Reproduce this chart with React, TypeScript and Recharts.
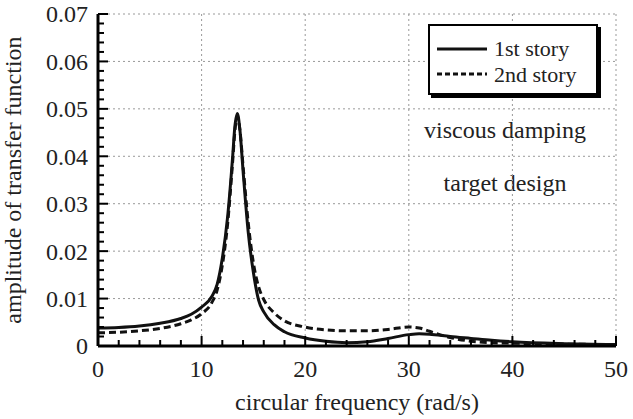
import { ComposedChart, Line, XAxis, YAxis, ReferenceLine, Legend } from "recharts"

const freq = [0, 2, 4, 6, 8, 9, 10, 11, 11.5, 12, 12.5, 13, 13.2, 13.45, 13.7, 14, 14.5, 15, 15.5, 16, 17, 18, 20, 22, 24, 26, 28, 30, 31, 32, 34, 36, 38, 40, 45, 50]
const story1 = [0.0038, 0.0039, 0.0042, 0.0048, 0.0058, 0.0067, 0.0082, 0.0105, 0.013, 0.0185, 0.027, 0.04, 0.046, 0.049, 0.0455, 0.037, 0.024, 0.0155, 0.0097, 0.0072, 0.0045, 0.003, 0.0017, 0.001, 0.0007, 0.0009, 0.0016, 0.0024, 0.0026, 0.0025, 0.002, 0.0016, 0.0012, 0.0009, 0.0005, 0.0003]
const story2 = [0.0028, 0.0029, 0.0032, 0.0037, 0.0047, 0.0055, 0.0068, 0.0092, 0.0118, 0.017, 0.0255, 0.039, 0.045, 0.0485, 0.0455, 0.038, 0.026, 0.0175, 0.0125, 0.0098, 0.007, 0.0053, 0.004, 0.0034, 0.0032, 0.0032, 0.0035, 0.004, 0.0038, 0.0031, 0.0018, 0.001, 0.0007, 0.0006, 0.0004, 0.0003]

const xTicks = [0, 2, 4, 6, 8, 10, 12, 14, 16, 18, 20, 22, 24, 26, 28, 30, 32, 34, 36, 38, 40, 42, 44, 46, 48, 50]
const yTicks = [0, 0.002, 0.004, 0.006, 0.008, 0.01, 0.012, 0.014, 0.016, 0.018, 0.02, 0.022, 0.024, 0.026, 0.028, 0.03, 0.032, 0.034, 0.036, 0.038, 0.04, 0.042, 0.044, 0.046, 0.048, 0.05, 0.052, 0.054, 0.056, 0.058, 0.06, 0.062, 0.064, 0.066, 0.068, 0.07]
const xGrid = [10, 20, 30, 40, 50]
const yGrid = [0.01, 0.02, 0.03, 0.04, 0.05, 0.06, 0.07]
const seriesNames = ["1st story", "2nd story"]

const data = freq.map((f, i) => ({ f, s1: story1[i], s2: story2[i] }))

const FONT = "'Liberation Serif', 'Times New Roman', serif"
const FS = 24
const X_MARGIN = 14
const Y_MARGIN = 10

function XTick(props: any) {
  const { x, y, payload } = props
  const v = payload.value
  const major = v % 10 === 0
  const axisY = y - X_MARGIN
  return (
    <g>
      <line x1={x} x2={x} y1={axisY} y2={axisY - (major ? 10 : 6)} stroke="#000" strokeWidth={2} />
      {major && (
        <text x={x} y={y} dy="0.72em" textAnchor="middle" fontSize={FS} fontFamily={FONT} fill="#222">
          {v}
        </text>
      )}
    </g>
  )
}

function YTick(props: any) {
  const { x, y, payload } = props
  const v = payload.value
  const major = Math.round(v * 1000) % 10 === 0
  const axisX = x + Y_MARGIN
  return (
    <g>
      <line x1={axisX} x2={axisX + (major ? 10 : 6)} y1={y} y2={y} stroke="#000" strokeWidth={2} />
      {major && (
        <text x={x} y={y} dy="0.35em" textAnchor="end" fontSize={FS} fontFamily={FONT} fill="#222">
          {v === 0 ? "0" : v.toFixed(2)}
        </text>
      )}
    </g>
  )
}

function LegendBox() {
  return (
    <div
      style={{
        border: "2px solid #000",
        boxShadow: "3px 3px 0 #000",
        background: "#fff",
        width: 166,
        height: 67,
        fontFamily: FONT,
        fontSize: 22,
        color: "#222",
        textAlign: "left",
      }}
    >
      {seriesNames.map((name, i) => (
        <div key={name} style={{ display: "flex", alignItems: "center", height: 25.5, marginTop: i === 0 ? 10 : 0 }}>
          <svg width={57} height={10} style={{ marginLeft: 7, flex: "none" }}>
            <line x1={0} x2={50} y1={5} y2={5} stroke="#111" strokeWidth={3} strokeDasharray={i === 1 ? "5 3" : undefined} />
          </svg>
          <span style={{ lineHeight: "25px", whiteSpace: "nowrap" }}>{name}</span>
        </div>
      ))}
    </div>
  )
}

export default function App() {
  return (
    <div style={{ position: "absolute", left: 0, top: 0, background: "#fff" }}>
      <ComposedChart width={633} height={419} data={data} margin={{ top: 14, right: 17, bottom: 0, left: 0 }}>
        {xGrid.map((v) => (
          <ReferenceLine key={"x" + v} x={v} stroke="#999" strokeDasharray="2 3" strokeWidth={1} />
        ))}
        {yGrid.map((v) => (
          <ReferenceLine key={"y" + v} y={v} stroke="#999" strokeDasharray="2 3" strokeWidth={1} />
        ))}
        <XAxis
          dataKey="f"
          type="number"
          domain={[0, 50]}
          ticks={xTicks}
          interval={0}
          height={73}
          tickSize={0}
          tickMargin={X_MARGIN}
          tickLine={false}
          axisLine={{ stroke: "#000", strokeWidth: 3 }}
          tick={<XTick />}
          label={{
            value: "circular frequency (rad/s)",
            position: "insideBottom",
            offset: 9,
            style: { fontFamily: FONT, fontSize: FS, fill: "#222" },
          }}
        />
        <YAxis
          type="number"
          domain={[0, 0.07]}
          ticks={yTicks}
          interval={0}
          width={98}
          tickSize={0}
          tickMargin={Y_MARGIN}
          tickLine={false}
          axisLine={{ stroke: "#000", strokeWidth: 3 }}
          tick={<YTick />}
          label={{
            value: "amplitude of transfer function",
            angle: -90,
            position: "insideLeft",
            offset: 12,
            style: { fontFamily: FONT, fontSize: FS, fill: "#222", textAnchor: "middle" },
          }}
        />
        <Legend
          layout="horizontal"
          verticalAlign="middle"
          align="center"
          content={<LegendBox />}
          wrapperStyle={{ position: "absolute", left: 428, top: 24, width: 172, height: 71 }}
        />
        <Line
          type="monotone"
          dataKey="s2"
          name={seriesNames[1]}
          stroke="#111"
          strokeWidth={3}
          strokeDasharray="7 4"
          dot={false}
          isAnimationActive={false}
        />
        <Line
          type="monotone"
          dataKey="s1"
          name={seriesNames[0]}
          stroke="#111"
          strokeWidth={3}
          dot={false}
          isAnimationActive={false}
        />
        <text x={505} y={130} dy="0.35em" textAnchor="middle" fontSize={FS} fontFamily={FONT} fill="#222">
          viscous damping
        </text>
        <text x={505} y={183} dy="0.35em" textAnchor="middle" fontSize={FS} fontFamily={FONT} fill="#222">
          target design
        </text>
      </ComposedChart>
    </div>
  )
}
